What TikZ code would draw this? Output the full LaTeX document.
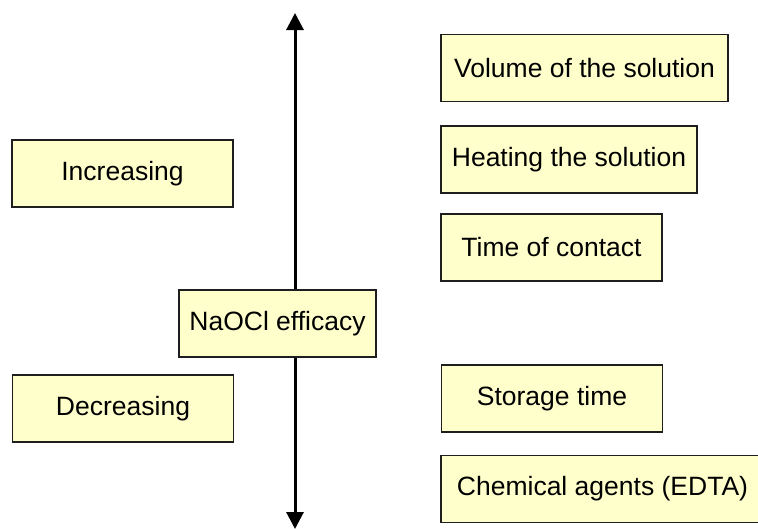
\documentclass[tikz,border=0pt]{standalone}
\usepackage{xcolor}
\usepackage{fontspec}
\setmainfont{Liberation Sans}
\usepackage{tikz}
\usetikzlibrary{shapes}
\usetikzlibrary{arrows.meta}
\definecolor{boxfill}{RGB}{255,255,204}
\definecolor{boxline}{RGB}{30,30,30}
\tikzset{
  main node/.style={rectangle,draw=boxline,fill=boxfill,line width=1.6pt,font=\fontsize{26.5}{30}\selectfont,minimum height=67pt,inner sep=0pt},
  side node/.style={main node,minimum width=221pt},
  axis line/.style={line width=3pt}
}
\begin{document}
\begin{tikzpicture}[x=1pt,y=-1pt,>={Triangle[length=17pt,width=17pt]}]
  \clip (0,0) rectangle (758,528);
  \fill[white] (0,0) rectangle (758,528);
  \coordinate (top) at (295,13);
  \coordinate (bot) at (295,529);
  \draw[axis line,<->] (bot) -- (top);
  \node [main node,minimum width=197pt] (efficacy) at (277.5,323.5) {NaOCl efficacy};
  \node [side node] (inc) at (122.5,173.5) {Increasing};
  \node [side node] (dec) at (123,408.5) {Decreasing};
  \node [main node,minimum width=287pt] (volume) at (584.5,68) {Volume of the solution};
  \node [main node,minimum width=256pt] (heating) at (569,159.5) {Heating the solution};
  \node [side node] (contact) at (551.5,247.5) {Time of contact};
  \node [side node] (storage) at (552,398.5) {Storage time};
  \node [main node,minimum width=323pt] (agents) at (602.5,489) {Chemical agents (EDTA)};
\end{tikzpicture}
\end{document}
